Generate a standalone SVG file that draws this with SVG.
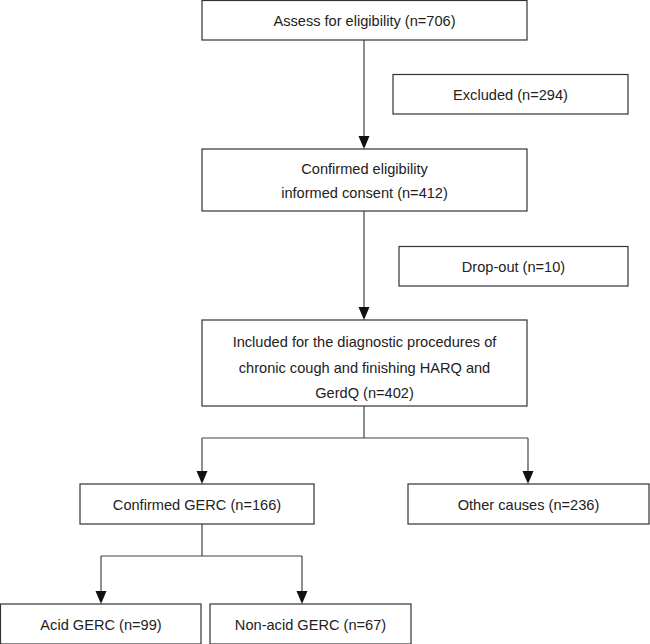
<svg xmlns="http://www.w3.org/2000/svg" width="650" height="644" viewBox="0 0 650 644">
<defs>
<marker id="arr" markerWidth="11" markerHeight="13" refX="13" refY="5.5" orient="auto" markerUnits="userSpaceOnUse">
<path d="M0,0 L13,5.5 L0,11 Z" fill="#111"/>
</marker>
</defs>
<style>
.box{fill:#fff;stroke:#333;stroke-width:1.2}
.t{font-family:"Liberation Sans",Arial,sans-serif;font-size:14.6px;fill:#222;text-anchor:middle}
.c{fill:none;stroke:#444;stroke-width:1.2}
</style>
<rect width="650" height="644" fill="#fff"/>
<g id="connectors">
<path class="c" d="M364,40 V149" marker-end="url(#arr)"/>
<path class="c" d="M364,211 V320" marker-end="url(#arr)"/>
<path class="c" d="M364,406 V438 M202,438 H528"/>
<path class="c" d="M202,438 V484" marker-end="url(#arr)"/>
<path class="c" d="M528,438 V484" marker-end="url(#arr)"/>
<path class="c" d="M202,524 V556 M101,556 H302"/>
<path class="c" d="M101,556 V604" marker-end="url(#arr)"/>
<path class="c" d="M302,556 V604" marker-end="url(#arr)"/>
</g>
<g id="assess">
<rect class="box" x="202" y="0.5" width="325" height="39.5"/>
<text class="t" x="364.5" y="26">Assess for eligibility (n=706)</text>
</g>
<g id="excluded">
<rect class="box" x="393" y="74.5" width="235" height="39.5"/>
<text class="t" x="510.5" y="99.5">Excluded (n=294)</text>
</g>
<g id="confirmed">
<rect class="box" x="202" y="149" width="325" height="62"/>
<text class="t" x="364.5" y="174">Confirmed eligibility</text>
<text class="t" x="364.5" y="198">informed consent (n=412)</text>
</g>
<g id="dropout">
<rect class="box" x="399" y="246.5" width="229" height="39.5"/>
<text class="t" x="513.5" y="271.5">Drop-out (n=10)</text>
</g>
<g id="included">
<rect class="box" x="202" y="320" width="325" height="86"/>
<text class="t" x="364.5" y="347">Included for the diagnostic procedures of</text>
<text class="t" x="364.5" y="373">chronic cough and finishing HARQ and</text>
<text class="t" x="364.5" y="398">GerdQ (n=402)</text>
</g>
<g id="gerc">
<rect class="box" x="80" y="484" width="234" height="40"/>
<text class="t" x="197" y="509.5">Confirmed GERC (n=166)</text>
</g>
<g id="other">
<rect class="box" x="408" y="484" width="241" height="40"/>
<text class="t" x="528.5" y="509.5">Other causes (n=236)</text>
</g>
<g id="acid">
<rect class="box" x="0.5" y="604" width="200.5" height="40"/>
<text class="t" x="101" y="629.5">Acid GERC (n=99)</text>
</g>
<g id="nonacid">
<rect class="box" x="210" y="604" width="201" height="40"/>
<text class="t" x="310.5" y="629.5">Non-acid GERC (n=67)</text>
</g>
</svg>
